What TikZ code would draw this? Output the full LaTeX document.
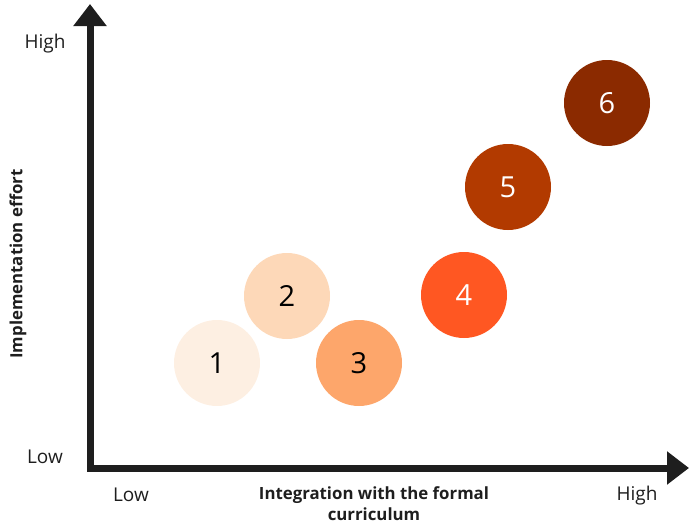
\documentclass[tikz,border=0pt]{standalone}
\usepackage{fontspec}
\setmainfont{Open Sans}
\usetikzlibrary{arrows.meta,positioning}

\definecolor{axisgray}{HTML}{1E1E1E}
\definecolor{level1}{HTML}{FDEFE2}
\definecolor{level2}{HTML}{FDD8B8}
\definecolor{level3}{HTML}{FDA66B}
\definecolor{level4}{HTML}{FF5722}
\definecolor{level5}{HTML}{B23A00}
\definecolor{level6}{HTML}{8B2A00}

\begin{document}
\begin{tikzpicture}[x=1pt, y=-1pt,
    bubble/.style={circle, minimum size=86pt, inner sep=0pt, font=\fontsize{29}{29}\selectfont},
    tick/.style={font=\fontsize{19}{19}\selectfont, text=axisgray},
    axistitle/.style={font=\fontsize{16.8}{21}\selectfont\bfseries, text=axisgray, align=center}]

    % frame
    \useasboundingbox (0,0) rectangle (689,525);

    % axes
    \coordinate (origin) at (90,468);
    \coordinate (ytip) at (90,4);
    \coordinate (xtip) at (689,468);
    \draw[line width=7pt, axisgray, {Triangle[length=22pt,width=32pt]}-{Triangle[length=22pt,width=32pt]}]
        (ytip) -- (origin) -- (xtip);

    % axis labels
    \node[tick] (yhigh) at (45,44) {High};
    \node[tick] (ylow) at (45,457) {Low};
    \node[tick] (xlow) at (131,495) {Low};
    \node[tick] (xhigh) at (637,496) {High};
    \node[axistitle] (xtitle) at (374,504) {Integration with the formal\\curriculum};
    \node[axistitle, rotate=90] (ytitle) at (18,264) {Implementation effort};

    % bubbles
    \node[bubble, fill=level1] (c1) at (217,363) {1};
    \node[bubble, fill=level2] (c2) at (287,296) {2};
    \node[bubble, fill=level3] (c3) at (359,363) {3};
    \node[bubble, fill=level4, text=white] (c4) at (464,295) {4};
    \node[bubble, fill=level5, text=white] (c5) at (508,187) {5};
    \node[bubble, fill=level6, text=white] (c6) at (607,103) {6};

\end{tikzpicture}
\end{document}
